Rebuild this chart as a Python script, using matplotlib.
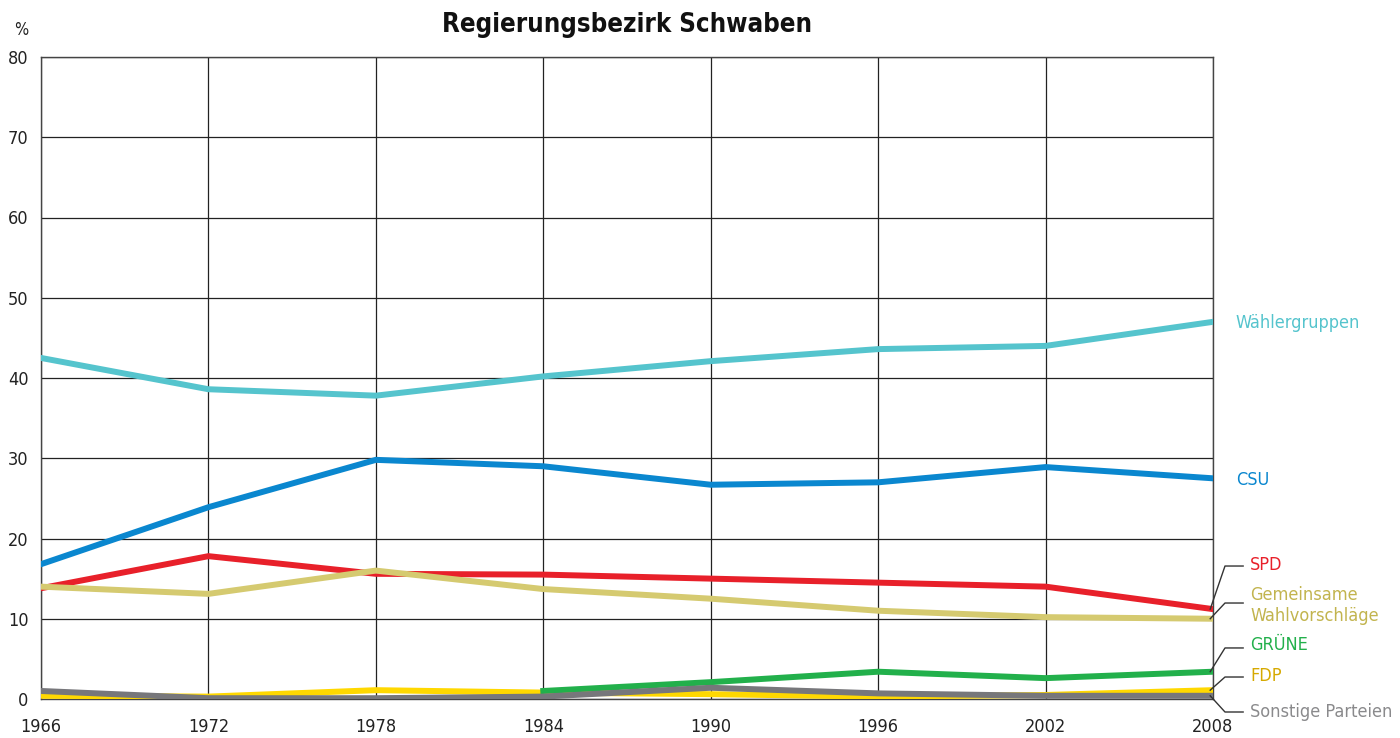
import matplotlib
matplotlib.use("Agg")
import matplotlib.pyplot as plt

years = [1966, 1972, 1978, 1984, 1990, 1996, 2002, 2008]
waehlergruppen = [42.5, 38.6, 37.8, 40.2, 42.1, 43.6, 44.0, 47.0]
csu = [16.8, 23.9, 29.8, 29.0, 26.7, 27.0, 28.9, 27.5]
spd = [13.8, 17.8, 15.6, 15.5, 15.0, 14.5, 14.0, 11.2]
gemeinsame = [14.0, 13.1, 16.0, 13.7, 12.5, 11.0, 10.2, 10.0]
gruene_years = [1984, 1990, 1996, 2002, 2008]
gruene = [1.0, 2.1, 3.4, 2.6, 3.4]
fdp = [0.4, 0.3, 1.1, 0.8, 0.6, 0.3, 0.5, 1.1]
sonstige = [1.0, 0.1, 0.1, 0.3, 1.4, 0.7, 0.4, 0.4]
yticks = [0, 10, 20, 30, 40, 50, 60, 70, 80]

FONT = "DejaVu Sans"
STRETCH = "condensed"
plt.rcParams["font.family"] = FONT

fig = plt.figure(figsize=(14, 7.38), dpi=100)
ax = fig.add_axes([41 / 1400, 1 - 699 / 738, (1213 - 41) / 1400, (699 - 57) / 738])
ax.set_xlim(1966, 2008)
ax.set_ylim(0, 80)

lw = 4.3
ax.plot(years, waehlergruppen, color="#55C4CD", lw=lw, solid_joinstyle="miter", zorder=3)
ax.plot(years, csu, color="#0A87CF", lw=lw, solid_joinstyle="miter", zorder=3)
ax.plot(years, spd, color="#E8202A", lw=lw, solid_joinstyle="miter", zorder=3)
ax.plot(years, gemeinsame, color="#D5CA70", lw=lw, solid_joinstyle="miter", zorder=3)
ax.plot(years, fdp, color="#FFD800", lw=lw, solid_joinstyle="miter", zorder=3)
ax.plot(gruene_years, gruene, color="#22B04B", lw=lw, solid_joinstyle="miter", zorder=3)
ax.plot(years, sonstige, color="#77777B", lw=lw, solid_joinstyle="miter", zorder=3)

ax.set_xticks(years)
ax.set_yticks(yticks)
ax.grid(True, color="#222222", lw=0.9)
for s in ax.spines.values():
    s.set_color("#444444")
    s.set_linewidth(1.0)
ax.tick_params(length=0, labelsize=13, colors="#222222")
ax.tick_params(axis="x", pad=14)
ax.tick_params(axis="y", pad=9)
for lab in ax.get_xticklabels() + ax.get_yticklabels():
    lab.set_fontstretch(STRETCH)

ax.text(0.5, 1.03, "Regierungsbezirk Schwaben", transform=ax.transAxes, ha="center",
        va="bottom", fontsize=18.5, fontweight="bold", fontstretch=STRETCH, color="#111111")
fig.text(21 / 1400, 1 - 30 / 738, "%", ha="center", va="center", fontsize=12,
         fontstretch=STRETCH, color="#222222")

# labels on the right
lab_fs = 13
ax.text(2008.82, 46.85, "Wählergruppen", color="#55C4CD", fontsize=lab_fs, va="center",
        ha="left", fontstretch=STRETCH, clip_on=False)
ax.text(2008.82, 27.3, "CSU", color="#0A87CF", fontsize=lab_fs, va="center",
        ha="left", fontstretch=STRETCH, clip_on=False)

xa, xb, xt = 2008.43, 2009.08, 2009.33
leaders = [
    (spd[-1], 16.57, 16.7, "SPD", "#E8202A", "normal"),
    (gemeinsame[-1], 11.96, 11.65, "Gemeinsame\nWahlvorschläge", "#C2B44E", "normal"),
    (gruene[-1], 6.36, 6.73, "GRÜNE", "#22B04B", "normal"),
    (fdp[-1], 2.74, 2.87, "FDP", "#D6A900", "normal"),
    (sonstige[-1], -1.62, -1.62, "Sonstige Parteien", "#8A8A8C", "normal"),
]
for y0, ybend, ytext, txt, col, wt in leaders:
    ax.plot([2007.9, xa, xb], [y0, ybend, ybend], color="#333333", lw=1.0,
            clip_on=False, zorder=4)
    ax.text(xt, ytext, txt, color=col, fontsize=lab_fs, va="center", ha="left",
            fontweight=wt, fontstretch=STRETCH, clip_on=False, linespacing=1.25)

fig.savefig("out.png", dpi=100)
